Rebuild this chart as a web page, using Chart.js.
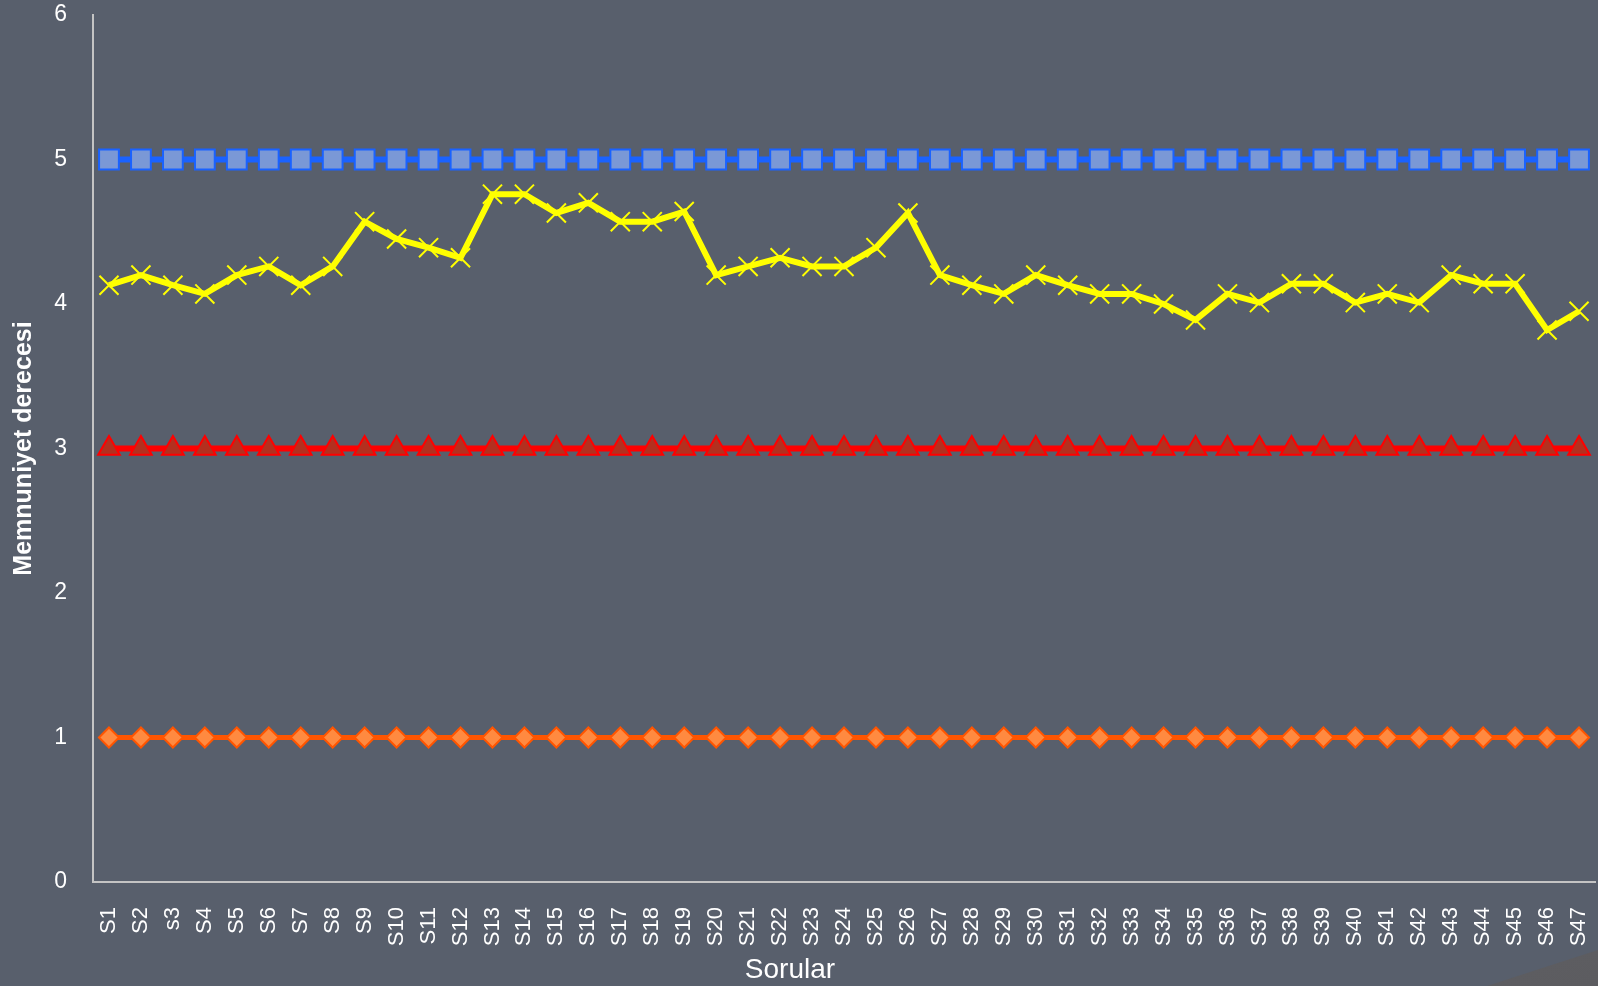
<!DOCTYPE html>
<html>
<head>
<meta charset="utf-8">
<script src="https://cdn.jsdelivr.net/npm/chart.js@4/dist/chart.umd.min.js"></script>
<style>
  html, body { margin: 0; padding: 0; background: #585f6c; }
  #wrap { position: relative; width: 1598px; height: 986px; overflow: hidden; }
  #curl {
    position: absolute; left: 0; top: 0; width: 1598px; height: 986px;
    clip-path: polygon(1487px 986px, 1598px 950px, 1598px 986px);
    background: linear-gradient(160deg, #4a4f58 0%, #6b6b6e 60%, #5c5c60 100%);
  }
  /* x ekseni başlığı: orijinalde eksen ortasının biraz solunda */
  #xTitle {
    position: absolute; left: 690px; width: 200px; top: 952px;
    text-align: center; color: #fff;
    font: 28px 'Liberation Sans', Arial, sans-serif; line-height: 34px;
  }
</style>
</head>
<body>
<div id="wrap">
  <div id="curl"></div>
  <canvas id="chart"></canvas>
  <div id="xTitle">Sorular</div>
</div>
<script>
// Sorular S1..S47 (s3 is written lower case in the original)
const labels = [
  "S1","S2","s3","S4","S5","S6","S7","S8","S9","S10","S11","S12","S13","S14","S15","S16",
  "S17","S18","S19","S20","S21","S22","S23","S24","S25","S26","S27","S28","S29","S30","S31",
  "S32","S33","S34","S35","S36","S37","S38","S39","S40","S41","S42","S43","S44","S45","S46","S47"
];

// Ortalama memnuniyet (sarı çizgi)
const ortalama = [
  4.13, 4.20, 4.13, 4.07, 4.20, 4.26, 4.13, 4.26, 4.57, 4.45, 4.39, 4.32, 4.76, 4.76, 4.63, 4.70,
  4.57, 4.57, 4.64, 4.20, 4.26, 4.32, 4.26, 4.26, 4.39, 4.63, 4.20, 4.13, 4.07, 4.20, 4.13,
  4.07, 4.07, 4.00, 3.89, 4.07, 4.01, 4.14, 4.14, 4.01, 4.07, 4.01, 4.20, 4.14, 4.14, 3.82, 3.95
];

// Referans seviyeleri
const maksimum = labels.map(() => 5);
const orta = labels.map(() => 3);
const minimum = labels.map(() => 1);

const yTicks = [0, 1, 2, 3, 4, 5, 6];

const FONT = "'Liberation Sans', Arial, sans-serif";

const ctx = document.getElementById("chart").getContext("2d");
new Chart(ctx, {
  type: "line",
  data: {
    labels,
    datasets: [
      {
        label: "Maksimum",
        data: maksimum,
        borderColor: "#1a62ff",
        borderWidth: 6,
        pointStyle: "rect",
        pointRadius: 14,
        pointBackgroundColor: "#7a98d6",
        pointBorderColor: "#1a62ff",
        pointBorderWidth: 2
      },
      {
        label: "Orta",
        data: orta,
        borderColor: "#ff0000",
        borderWidth: 6,
        pointStyle: "triangle",
        pointRadius: 12.5,
        pointBackgroundColor: "#b3301f",
        pointBorderColor: "#ff0000",
        pointBorderWidth: 2
      },
      {
        label: "Minimum",
        data: minimum,
        borderColor: "#ff5500",
        borderWidth: 5,
        pointStyle: "rectRot",
        pointRadius: 10,
        pointBackgroundColor: "#ff8a40",
        pointBorderColor: "#ff5500",
        pointBorderWidth: 2
      },
      {
        label: "Ortalama",
        data: ortalama,
        borderColor: "#ffff00",
        borderWidth: 6,
        pointStyle: "crossRot",
        pointRadius: 13.5,
        pointBorderColor: "#ffff00",
        pointBorderWidth: 2
      }
    ]
  },
  options: {
    responsive: true,
    maintainAspectRatio: false,
    animation: false,
    layout: { autoPadding: false, padding: { left: 3, top: 15, right: 3, bottom: 0 } },
    plugins: { legend: { display: false }, tooltip: { enabled: false } },
    scales: {
      x: {
        offset: true,
        grid: { display: false, drawTicks: false },
        border: { color: "#c4c4c4", width: 2 },
        afterFit: (s) => {
          s.height = 104;
          s.paddingLeft = 0;
          s.paddingRight = 0;
        },
        ticks: {
          color: "#ffffff",
          font: { family: FONT, size: 22 },
          minRotation: 90,
          maxRotation: 90,
          autoSkip: false,
          padding: 25
        }
      },
      y: {
        min: yTicks[0],
        max: yTicks[yTicks.length - 1],
        grid: { display: false, drawTicks: false },
        border: { color: "#c4c4c4", width: 2 },
        afterFit: (s) => {
          s.width = 90;
          s.paddingTop = 0;
          s.paddingBottom = 0;
        },
        afterBuildTicks: (s) => { s.ticks = yTicks.map(v => ({ value: v })); },
        ticks: {
          color: "#ffffff",
          font: { family: FONT, size: 23 },
          padding: 26
        },
        title: {
          display: true,
          text: "Memnuniyet derecesi",
          color: "#ffffff",
          font: { family: FONT, size: 25, weight: "bold" },
          padding: { top: 6, bottom: 4 }
        }
      }
    }
  }
});
</script>
</body>
</html>
